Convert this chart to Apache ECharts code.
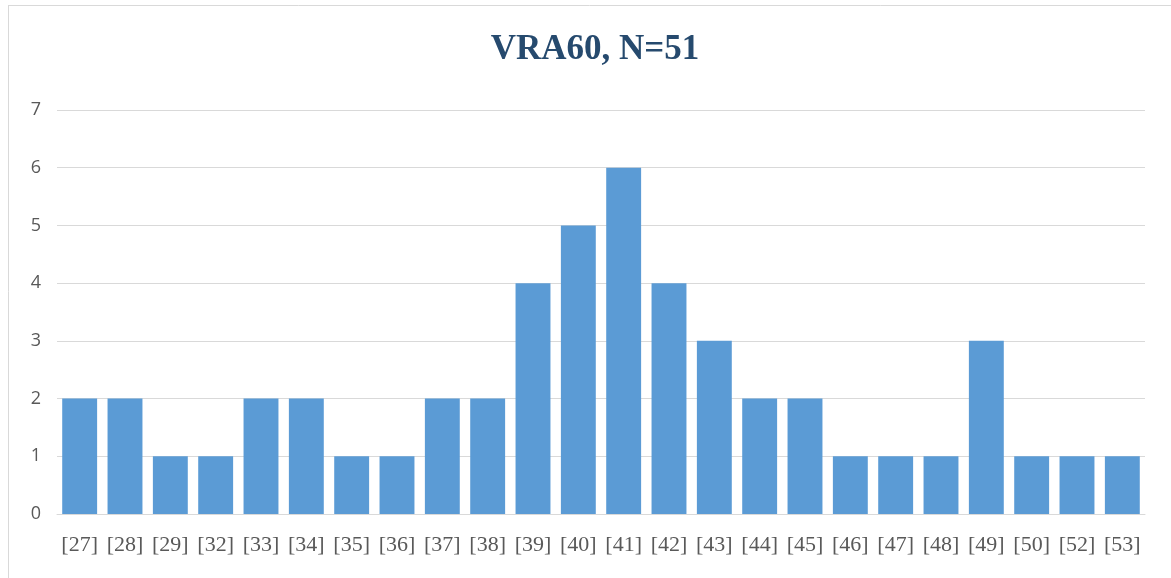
<!DOCTYPE html>
<html><head><meta charset="utf-8">
<script src="https://cdn.jsdelivr.net/npm/echarts@6/dist/echarts.min.js"></script>
<style>html,body{margin:0;padding:0;background:#fff}#c{width:1171px;height:578px}</style>
</head><body><div id="c"></div>
<script>
const titleText = 'VRA60, N=51';
const categories = ['[27]','[28]','[29]','[32]','[33]','[34]','[35]','[36]','[37]','[38]','[39]','[40]','[41]','[42]','[43]','[44]','[45]','[46]','[47]','[48]','[49]','[50]','[52]','[53]'];
const counts = [2,2,1,1,2,2,1,1,2,2,4,5,6,4,3,2,2,1,1,1,3,1,1,1];
const yTicks = [0,1,2,3,4,5,6,7];

const chart = echarts.init(document.getElementById('c'));
chart.setOption({
  animation: false,
  backgroundColor: '#fff',
  graphic: [
    {type:'line', shape:{x1:8.5,y1:5,x2:8.5,y2:578}, style:{stroke:'#d9d9d9',lineWidth:1}},
    {type:'line', shape:{x1:8,y1:5.5,x2:1171,y2:5.5}, style:{stroke:'#d9d9d9',lineWidth:1}}
  ],
  title: {
    text: titleText, left: 590, textAlign: 'center', top: 27,
    textStyle: {fontFamily: 'Liberation Serif', fontWeight: 'bold', fontSize: 35, color: '#264a6e'}
  },
  grid: {left: 57, right: 26, top: 110, bottom: 64, containLabel: false},
  xAxis: {
    type: 'category', data: categories,
    axisLine: {lineStyle: {color: '#d9d9d9', width: 1}},
    axisTick: {show: false},
    axisLabel: {interval: 0, margin: 20, fontFamily: 'Liberation Serif', fontSize: 22, color: '#595959'}
  },
  yAxis: {
    type: 'value', min: yTicks[0], max: yTicks[yTicks.length-1], interval: 1,
    axisLine: {show: false}, axisTick: {show: false},
    splitLine: {lineStyle: {color: '#d9d9d9', width: 1}},
    axisLabel: {margin: 16, fontFamily: 'Open Sans', fontSize: 18, color: '#595959'}
  },
  series: [{
    type: 'bar', data: counts, barCategoryGap: '23%',
    itemStyle: {color: '#5b9bd5'}
  }]
});
</script></body></html>
